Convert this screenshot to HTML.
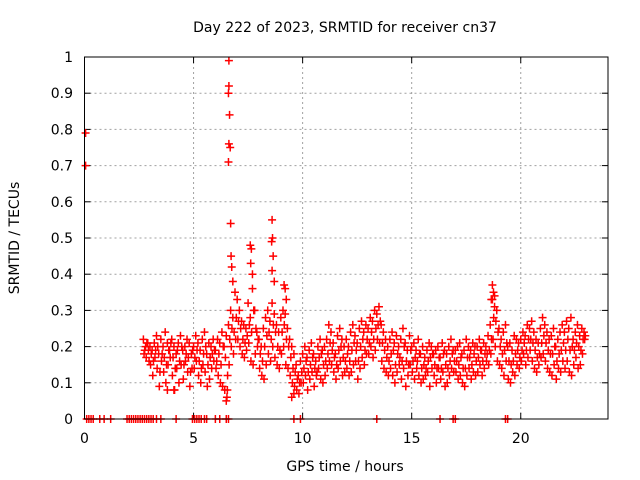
<!DOCTYPE html>
<html><head><meta charset="utf-8"><style>
body{margin:0;background:#fff}
svg{display:block;font-family:"DejaVu Sans","Liberation Sans",sans-serif;font-size:14px}
</style></head><body>
<svg id="c" width="640" height="480">
<text x="345" y="32" text-anchor="middle">Day 222 of 2023, SRMTID for receiver cn37</text>
<text transform="translate(19,238) rotate(-90)" text-anchor="middle">SRMTID / TECUs</text>
<text x="345" y="471" text-anchor="middle">GPS time / hours</text>
</svg>
<script>
const xTicks=[0,5,10,15,20];
const yTicks=[0,0.1,0.2,0.3,0.4,0.5,0.6,0.7,0.8,0.9,1];
const yTickLabels=["0","0.1","0.2","0.3","0.4","0.5","0.6","0.7","0.8","0.9","1"];
const startHour=2.7;
const seriesA=[22,20,21,20,19,21,23,18,22,20,24,21,19,22,20,18,21,23,19,20,22,21,18,20,23,21,19,22,24,18,21,20,22,19,22,21,24,20,23,26,30,28,35,33,30,27,26,25,32,28,36,30,24,22,20,25,28,30,27,32,29,26,24,28,30,29,25,22,20,18,15,12,16,18,20,17,19,21,18,16,20,22,19,20,22,26,24,21,18,23,25,22,20,22,20,24,26,23,21,25,27,24,26,25,28,27,30,29,31,26,24,22,20,22,24,21,23,20,22,25,21,19,23,20,21,19,22,18,20,17,19,21,20,18,19,20,17,21,19,18,20,22,19,19,20,21,18,19,22,20,19,21,20,20,22,19,21,20,23,26,33,34,30,25,22,24,26,20,21,19,23,22,21,22,24,23,26,25,27,24,22,21,25,28,26,24,22,23,25,20,22,24,26,24,27,25,28,22,24,26,23,25,24];
const seriesB=[18,17,19,15,12,17,14,9,16,13,10,15,17,12,8,14,10,15,11,16,13,9,14,14,16,12,10,15,13,9,11,14,16,14,12,10,9,8,6,15,20,18,22,22,20,18,17,19,21,16,15,18,20,14,12,11,15,18,16,20,17,15,14,18,20,15,14,12,10,9,8,7,10,10,12,8,11,13,9,12,14,11,10,12,14,16,15,13,11,14,16,12,13,14,12,13,15,16,11,14,17,15,18,18,20,17,19,22,21,16,14,13,12,14,12,10,13,15,11,14,9,12,15,13,11,14,12,10,11,12,13,9,14,12,10,14,11,13,9,10,12,14,13,13,11,12,10,9,12,14,11,13,12,13,15,12,14,16,15,18,22,20,16,15,14,12,16,11,10,13,12,15,14,16,18,15,17,19,16,14,13,15,17,18,16,14,13,12,15,11,14,13,16,14,16,13,12,15,17,14,15,18,22];
const seriesC=[19,21,16,18,16,19,20,13,18,17,15,19,21,17,14,19,16,20,15,18,17,13,19,17,19,16,14,18,20,15,17,18,19,16,18,15,20,17,12,22,25,24,28,27,25,22,21,23,26,24,30,25,22,18,16,20,23,24,22,26,24,20,19,24,26,22,20,17,14,13,11,10,13,14,16,13,15,17,14,13,17,18,15,16,18,21,19,17,15,19,20,17,16,18,16,19,21,19,16,20,22,19,22,21,24,22,25,26,27,21,19,17,16,18,19,15,18,17,16,20,16,15,19,16,17,16,18,14,15,14,16,17,18,15,14,17,14,18,15,14,16,18,16,16,15,17,14,14,17,17,15,18,16,17,19,16,18,18,19,22,28,27,24,20,18,19,21,16,15,16,18,19,17,19,21,19,22,22,21,19,17,18,21,23,21,19,18,18,20,16,18,19,21,19,22,19,20,19,21,20,19,22,23];
const extraHours=[0.05,0.05,6.62,6.62,6.6,6.65,6.62,6.68,6.6,6.7,6.72,6.75,6.8,7.6,7.65,7.62,7.7,8.6,8.62,8.58,8.65,8.6,8.7,9.15,9.2,9.25,18.7,18.75,18.65,18.8,6.5,6.55,9.6,9.5,4.1,3.8];
const extraValues=[0.79,0.70,0.99,0.92,0.90,0.84,0.76,0.75,0.71,0.54,0.45,0.42,0.38,0.48,0.47,0.43,0.40,0.55,0.50,0.49,0.45,0.41,0.38,0.37,0.36,0.33,0.37,0.35,0.33,0.31,0.05,0.08,0.07,0.06,0.08,0.08];
const zeroHours=[0.1,0.2,0.3,0.4,0.7,0.9,1.2,1.95,2.05,2.15,2.25,2.35,2.45,2.55,2.65,2.75,2.85,2.95,3.05,3.15,3.3,3.5,4.2,4.95,5.05,5.15,5.25,5.35,5.5,5.6,6.0,6.2,6.5,6.6,9.6,9.9,13.4,16.3,16.9,17.0,19.3,19.4];

const L=84.5,R=608,T=57,B=419;
const sx=h=>L+h/24*(R-L);
const sy=v=>B-v*(B-T);
const svg=document.getElementById('c');
const NS='http://www.w3.org/2000/svg';
function mk(t,a){const e=document.createElementNS(NS,t);for(const k in a)e.setAttribute(k,a[k]);svg.appendChild(e);return e;}
yTicks.forEach((v,i)=>{
 const y=sy(v);
 if(i>0&&i<yTicks.length-1){const g=mk('line',{x1:L,x2:R,y1:y,y2:y,stroke:'#a0a0a0','stroke-dasharray':'2,3'});
 
 }
 const t=mk('text',{x:73,y:y+5,'text-anchor':'end'});t.textContent=yTickLabels[i];
 
 
 mk('line',{x1:L,x2:L+6,y1:y,y2:y,stroke:'#000'});mk('line',{x1:R,x2:R-6,y1:y,y2:y,stroke:'#000'});
});
xTicks.forEach(h=>{
 const x=sx(h);
 if(h>0){const g=mk('line',{x1:x,x2:x,y1:T,y2:B,stroke:'#a0a0a0','stroke-dasharray':'2,3'});
 
 }
 const t=mk('text',{x:x,y:443,'text-anchor':'middle'});t.textContent=h;
 
 
 mk('line',{x1:x,x2:x,y1:B,y2:B-6,stroke:'#000'});mk('line',{x1:x,x2:x,y1:T,y2:T+6,stroke:'#000'});
});
function cross(h,v){
 const x=sx(h),y=sy(v);
 const p=mk('path',{d:`M${x-4},${y}H${x+4}M${x},${y-4}V${y+4}`,stroke:'#ff0000','stroke-width':1.5,fill:'none'});
 
 
}
seriesA.forEach((v,i)=>cross(startHour+i*0.1,v/100));
seriesB.forEach((v,i)=>cross(startHour+i*0.1+0.03,v/100));
seriesC.forEach((v,i)=>cross(startHour+i*0.1+0.06,v/100));
extraHours.forEach((h,i)=>cross(h,extraValues[i]));
zeroHours.forEach(h=>cross(h,0));
const fr=mk('rect',{x:L,y:T,width:R-L,height:B-T,fill:'none',stroke:'#000'});


</script>
</body></html>
